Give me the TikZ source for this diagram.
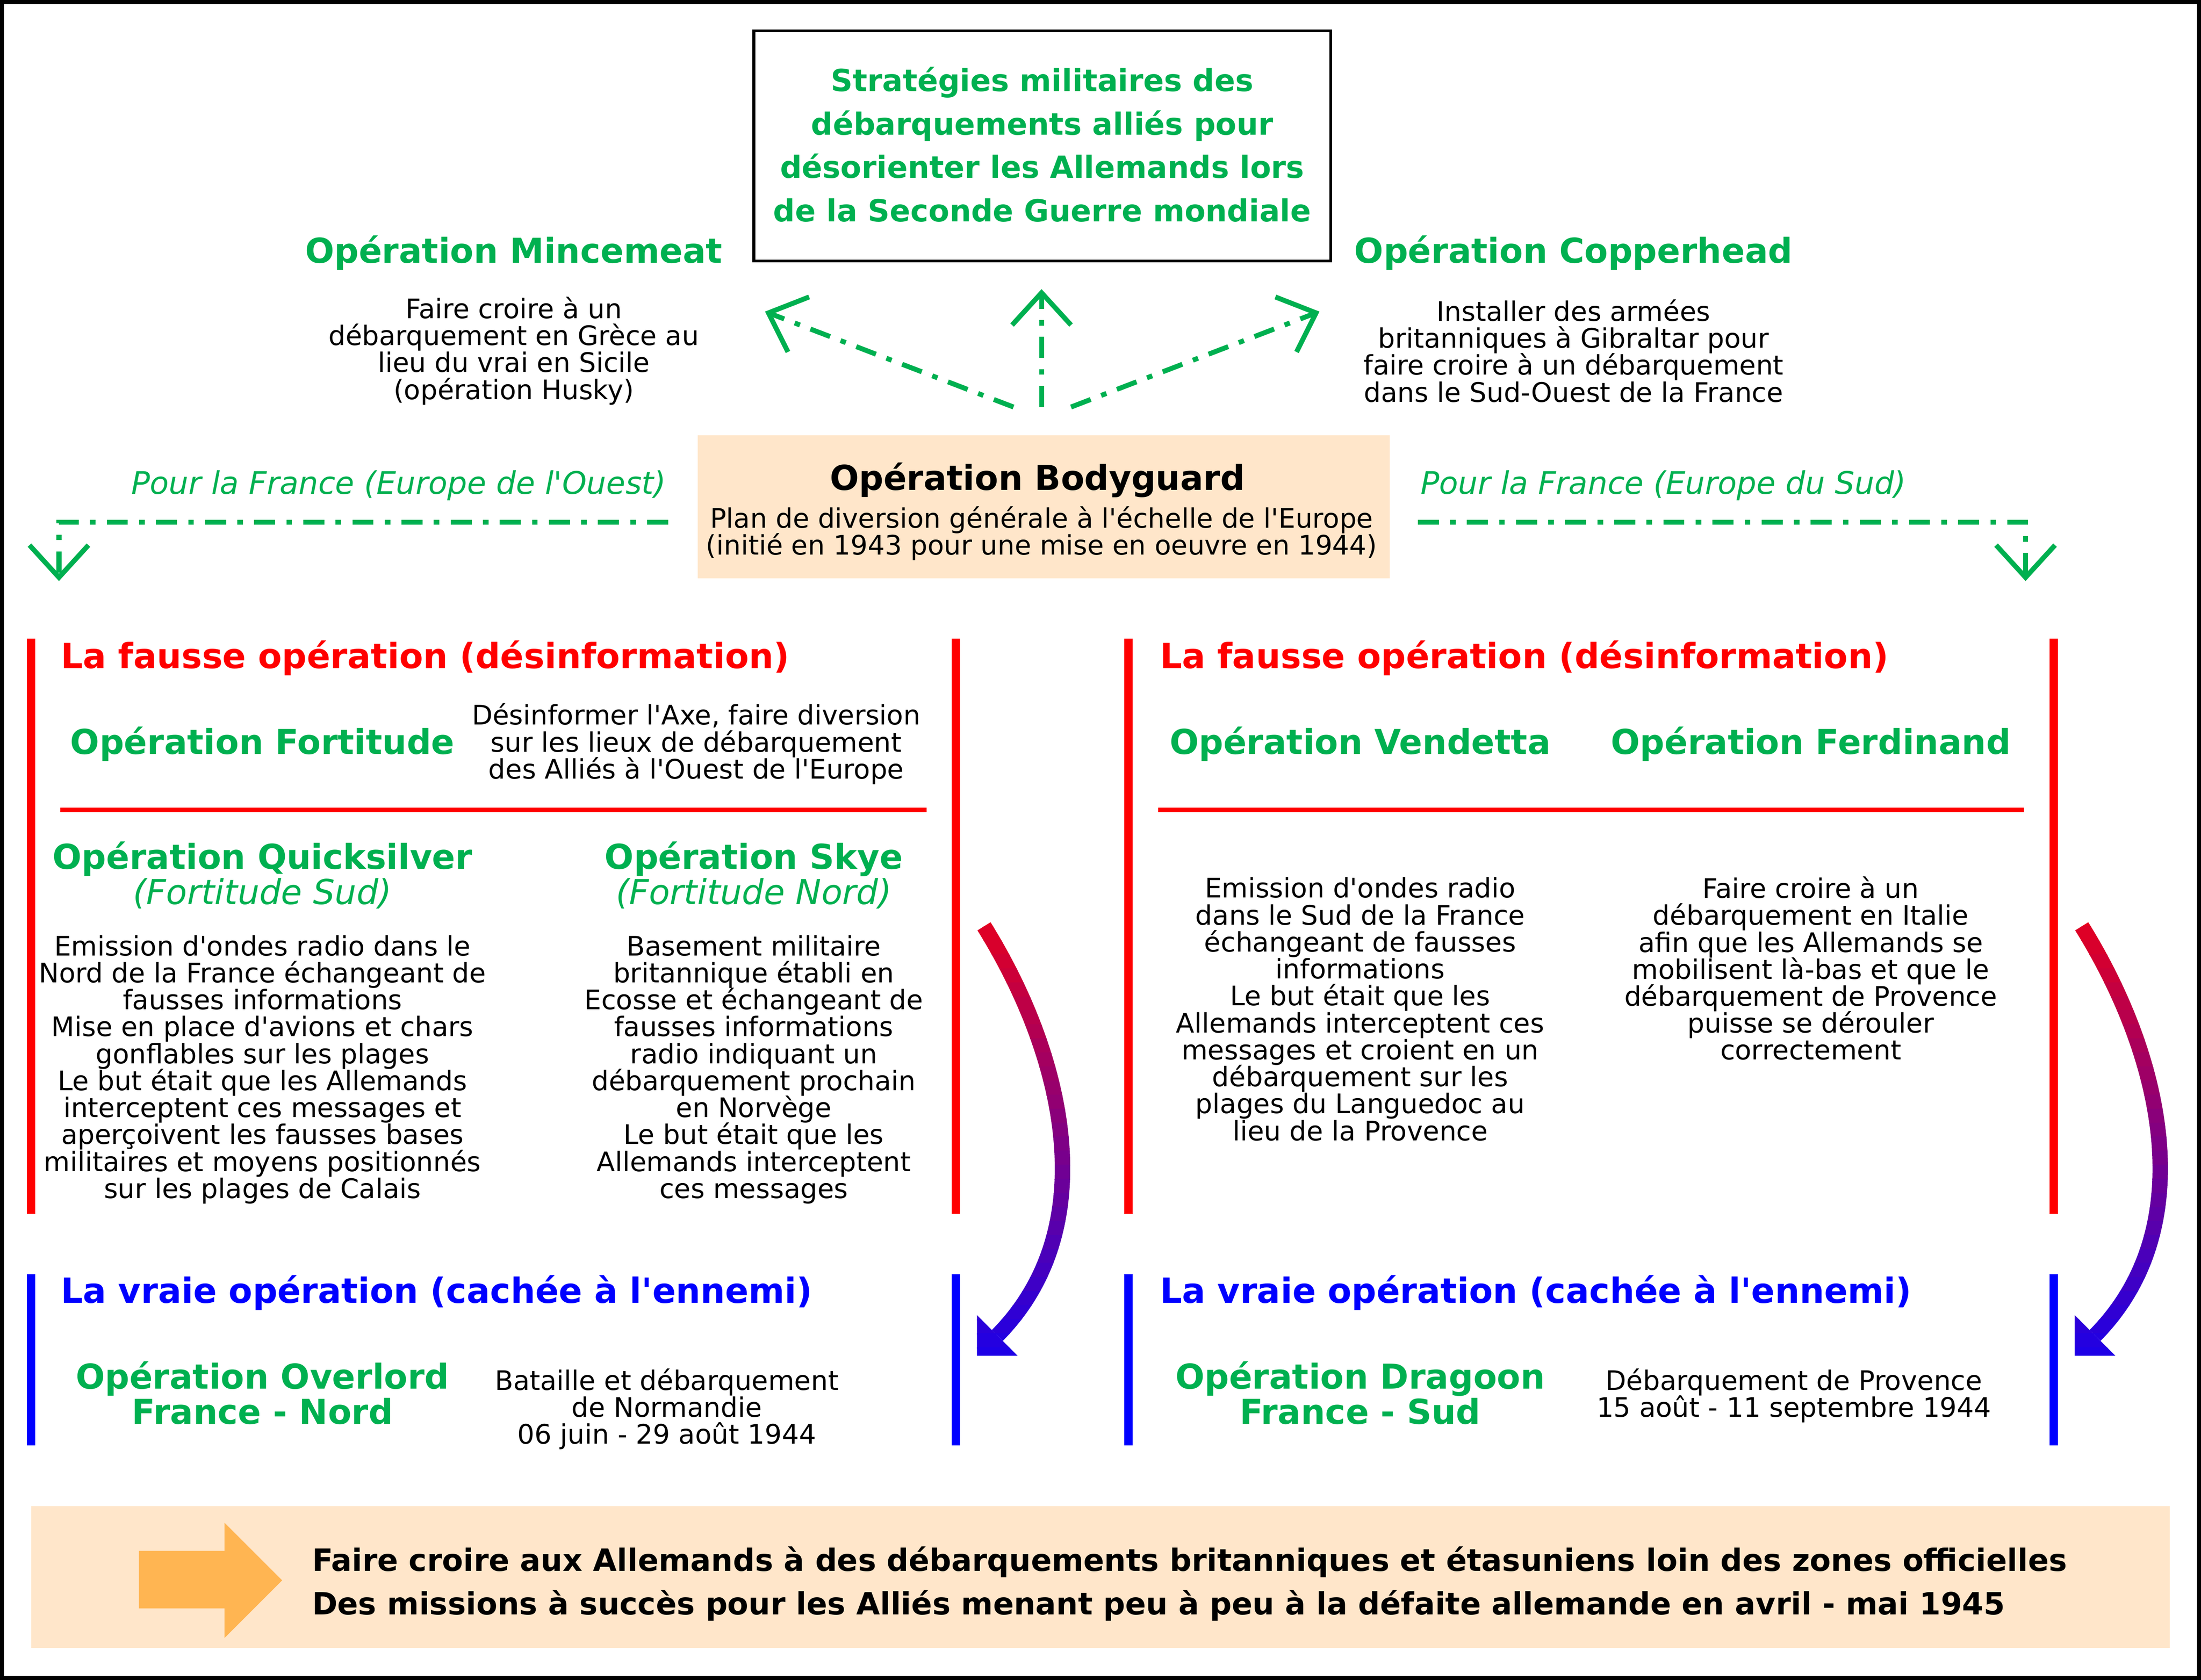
\documentclass[tikz,border=0pt]{standalone}
\usepackage{fontspec}
\setmainfont{DejaVu Sans}[Ligatures=TeXOff]
\usetikzlibrary{arrows.meta,positioning}
\setlength{\lineskiplimit}{-100pt}
\definecolor{opgreen}{RGB}{0,176,80}
\definecolor{peach}{RGB}{255,230,202}
\definecolor{orangearrow}{RGB}{255,181,82}
\definecolor{gradred}{RGB}{230,0,30}
\definecolor{gradblue}{RGB}{30,0,230}
\tikzset{
  optitle/.style={font=\fontsize{13.9}{14.23}\selectfont\bfseries, text=opgreen, align=center, inner sep=0pt},
  optext/.style={font=\fontsize{10.9}{10.93}\selectfont, align=center, inner sep=0pt},
  goaltext/.style={font=\fontsize{12.35}{17.6}\selectfont\bfseries, text=opgreen, align=center, inner sep=0pt},
  sectitle/.style={font=\fontsize{14.05}{14.23}\selectfont\bfseries, anchor=west, inner sep=0pt},
  route/.style={font=\fontsize{12.6}{13}\selectfont\itshape, text=opgreen, inner sep=0pt},
  dashdot/.style={opgreen, line width=0.07cm, dash pattern=on 0.3cm off 0.16cm on 0.08cm off 0.16cm,
    -{Straight Barb[length=0.46cm, width=0.84cm]}},
  fakebar/.style={red, line width=0.12cm},
  realbar/.style={blue, line width=0.12cm},
  sepline/.style={red, line width=0.06cm}
}
% curved red-to-blue arrow, #1 = x offset
\newcommand{\switcharrow}[1]{%
  \foreach \k in {0,...,31}{
    \pgfmathsetmacro{\ya}{650+\k*10}
    \pgfmathsetmacro{\yb}{\ya+10.6}
    \pgfmathtruncatemacro{\mix}{100-\k*100/31}
    \begin{scope}
      \clip (#1+650,\ya) rectangle (#1+800,\yb);
      \draw[gradred!\mix!gradblue, line width=0.22cm]
        (#1+701,660) .. controls (#1+757,750) and (#1+788,873) .. (#1+710.5,951.5);
      \fill[gradred!\mix!gradblue] (#1+696,966) -- (#1+696,937) -- (#1+725,966) -- cycle;
    \end{scope}
  }
}

\begin{document}
\begin{tikzpicture}[x=0.02cm, y=-0.02cm]
  \useasboundingbox (0,0) rectangle (1568,1197);
  \draw[line width=0.056cm] (1.4,1.4) rectangle (1566.6,1195.6);

  % top
  \node[draw, line width=0.04cm, minimum width=8.22cm, minimum height=3.28cm, inner sep=0pt] (goal) at (742.5,104) {};
  \node[goaltext] (goallabel) at (742.5,103) {Stratégies militaires des\\débarquements alliés pour\\désorienter les Allemands lors\\de la Seconde Guerre mondiale};
  \node[optitle] (mincemeat) at (366,180) {Opération Mincemeat};
  \node[optext] (mincetext) at (366,250) {Faire croire à un\\débarquement en Grèce au\\lieu du vrai en Sicile\\(opération Husky)};
  \node[optitle] (copperhead) at (1121,180) {Opération Copperhead};
  \node[optext] (coppertext) at (1121,250) {Installer des armées\\britanniques à Gibraltar pour\\faire croire à un débarquement\\dans le Sud-Ouest de la France};

  % bodyguard
  \node[fill=peach, minimum width=9.86cm, minimum height=2.04cm, inner sep=0pt] (bodyguard) at (743.5,361) {};
  \node[font=\fontsize{13.9}{14.23}\selectfont\bfseries, inner sep=0pt] (bgtitle) at (739,342) {Opération Bodyguard};
  \node[optext] (bgtext) at (742,380) {Plan de diversion générale à l'échelle de l'Europe\\(initié en 1943 pour une mise en oeuvre en 1944)};
  \node[route] (westroute) at (284,346) {Pour la France (Europe de l'Ouest)};
  \node[route] (southroute) at (1185,346) {Pour la France (Europe du Sud)};

  \coordinate (fanL) at (722,290);
  \coordinate (fanM) at (742,290);
  \coordinate (fanR) at (763,290);
  \coordinate (tipL) at (545,222);
  \coordinate (tipM) at (742,206);
  \coordinate (tipR) at (940,222);
  \draw[dashdot] (fanL) -- (tipL);
  \draw[dashdot] (fanM) -- (tipM);
  \draw[dashdot] (fanR) -- (tipR);
  \coordinate (westA) at (476,372);
  \coordinate (westB) at (42,414);
  \coordinate (southA) at (1010,372);
  \coordinate (southB) at (1443,414);
  \draw[dashdot] (westA) -| (westB);
  \draw[dashdot] (southA) -| (southB);

  % bars
  \foreach \xb in {22,681,804,1463}{
    \draw[fakebar] (\xb,455) -- (\xb,865);
    \draw[realbar] (\xb,908) -- (\xb,1030);
  }
  \draw[sepline] (43,577) -- (660,577);
  \draw[sepline] (825,577) -- (1442,577);

  % west
  \node[sectitle, text=red] (westfake) at (43,469) {La fausse opération (désinformation)};
  \node[optitle] (fortitude) at (187,530) {Opération Fortitude};
  \node[optext] (fortitudetext) at (496,530) {Désinformer l'Axe, faire diversion\\sur les lieux de débarquement\\des Alliés à l'Ouest de l'Europe};
  \node[optitle] (quicksilver) at (187,623.5) {Opération Quicksilver\\{\mdseries\itshape (Fortitude Sud)}};
  \node[optext] (quicktext) at (187,762) {Emission d'ondes radio dans le\\Nord de la France échangeant de\\fausses informations\\Mise en place d'avions et chars\\gonflables sur les plages\\Le but était que les Allemands\\interceptent ces messages et\\aperçoivent les fausses bases\\militaires et moyens positionnés\\sur les plages de Calais};
  \node[optitle] (skye) at (537,623.5) {Opération Skye\\{\mdseries\itshape (Fortitude Nord)}};
  \node[optext] (skyetext) at (537,762) {Basement militaire\\britannique établi en\\Ecosse et échangeant de\\fausses informations\\radio indiquant un\\débarquement prochain\\en Norvège\\Le but était que les\\Allemands interceptent\\ces messages};
  \node[sectitle, text=blue] (westreal) at (43,921) {La vraie opération (cachée à l'ennemi)};
  \node[optitle] (overlord) at (187,992.5) {Opération Overlord\\France - Nord};
  \node[optext] (overlordtext) at (475,1004) {Bataille et débarquement\\de Normandie\\06 juin - 29 août 1944};

  % south
  \node[sectitle, text=red] (southfake) at (826,469) {La fausse opération (désinformation)};
  \node[optitle] (vendetta) at (969,530) {Opération Vendetta};
  \node[optitle] (ferdinand) at (1290,530) {Opération Ferdinand};
  \node[optext] (vendettatext) at (969,719) {Emission d'ondes radio\\dans le Sud de la France\\échangeant de fausses\\informations\\Le but était que les\\Allemands interceptent ces\\messages et croient en un\\débarquement sur les\\plages du Languedoc au\\lieu de la Provence};
  \node[optext] (ferdinandtext) at (1290,690) {Faire croire à un\\débarquement en Italie\\afin que les Allemands se\\mobilisent là-bas et que le\\débarquement de Provence\\puisse se dérouler\\correctement};
  \node[sectitle, text=blue] (southreal) at (826,921) {La vraie opération (cachée à l'ennemi)};
  \node[optitle] (dragoon) at (969,992.5) {Opération Dragoon\\France - Sud};
  \node[optext] (dragoontext) at (1278,994.5) {Débarquement de Provence\\15 août - 11 septembre 1944};

  % fake to real
  \switcharrow{0}
  \switcharrow{782}

  % bottom
  \node[fill=peach, minimum width=30.48cm, minimum height=2.02cm, inner sep=0pt] (outcome) at (784,1123.5) {};
  \fill[orangearrow] (99,1105) -- (160,1105) -- (160,1085) -- (201,1126) -- (160,1167) -- (160,1146) -- (99,1146) -- cycle;
  \node[font=\fontsize{12.42}{17.6}\selectfont\bfseries, align=left, anchor=west, inner sep=0pt] (outcometext) at (222,1128.5)
    {Faire croire aux Allemands à des débarquements britanniques et étasuniens loin des zones officielles\\Des missions à succès pour les Alliés menant peu à peu à la défaite allemande en avril - mai 1945};
\end{tikzpicture}
\end{document}
